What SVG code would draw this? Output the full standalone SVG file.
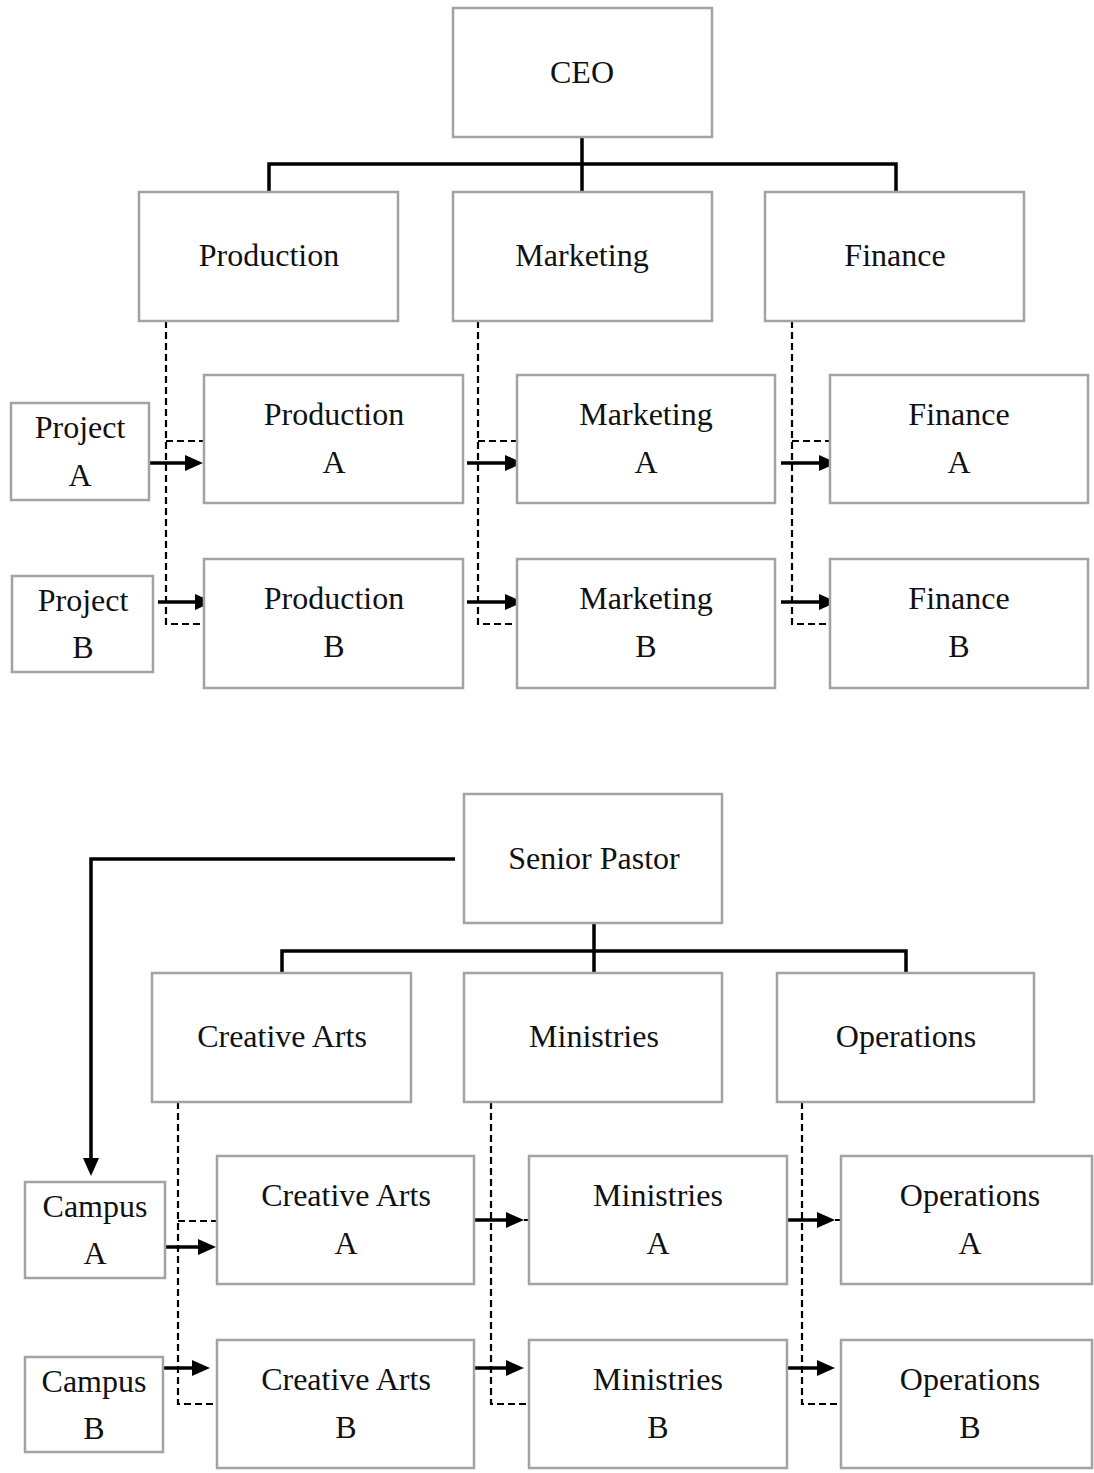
<svg xmlns="http://www.w3.org/2000/svg" width="1094" height="1473" viewBox="0 0 1094 1473">
<style>
.box{fill:#fff;stroke:#a3a3a3;stroke-width:2.5}
.t{font-family:"Liberation Serif","Times New Roman",serif;font-size:32px;fill:#111;text-anchor:middle}
.solid{fill:none;stroke:#000;stroke-width:3.5}
.dash{fill:none;stroke:#000;stroke-width:2.2;stroke-dasharray:7 4}
.arr{fill:none;stroke:#000;stroke-width:3.5;marker-end:url(#ah)}
</style>
<defs>
<marker id="ah" viewBox="0 0 18 16" refX="8" refY="8" markerWidth="18" markerHeight="16" markerUnits="userSpaceOnUse" orient="auto">
<path d="M0,0 L18,8 L0,16 z" fill="#000"/>
</marker>
</defs>
<rect width="1094" height="1473" fill="#fff"/>

<g id="connectors-top">
<path class="solid" d="M582,137 V164 M269,192 V164 H896 V192 M582,164 V192"/>
<path class="dash" d="M166,321 V624 H204 M166,441 H204"/>
<path class="dash" d="M478,321 V624 H517 M478,441 H517"/>
<path class="dash" d="M792,321 V624 H830 M792,441 H830"/>
<path class="arr" d="M147,463 H193"/>
<path class="arr" d="M158,602 H203"/>
<path class="arr" d="M467,463 H513"/>
<path class="arr" d="M467,602 H513"/>
<path class="arr" d="M781,463 H827"/>
<path class="arr" d="M781,602 H827"/>
</g>

<g id="ceo"><rect class="box" x="453" y="8" width="259" height="129"/><text class="t" x="582" y="83">CEO</text></g>
<g id="production"><rect class="box" x="139" y="192" width="259" height="129"/><text class="t" x="269" y="266">Production</text></g>
<g id="marketing"><rect class="box" x="453" y="192" width="259" height="129"/><text class="t" x="582" y="266">Marketing</text></g>
<g id="finance"><rect class="box" x="765" y="192" width="259" height="129"/><text class="t" x="895" y="266">Finance</text></g>

<g id="project-a"><rect class="box" x="11" y="403" width="138" height="97"/><text class="t" x="80" y="438">Project</text><text class="t" x="80" y="486">A</text></g>
<g id="project-b"><rect class="box" x="12" y="576" width="141" height="96"/><text class="t" x="83" y="611">Project</text><text class="t" x="83" y="658">B</text></g>

<g id="production-a"><rect class="box" x="204" y="375" width="259" height="128"/><text class="t" x="334" y="425">Production</text><text class="t" x="334" y="473">A</text></g>
<g id="marketing-a"><rect class="box" x="517" y="375" width="258" height="128"/><text class="t" x="646" y="425">Marketing</text><text class="t" x="646" y="473">A</text></g>
<g id="finance-a"><rect class="box" x="830" y="375" width="258" height="128"/><text class="t" x="959" y="425">Finance</text><text class="t" x="959" y="473">A</text></g>

<g id="production-b"><rect class="box" x="204" y="559" width="259" height="129"/><text class="t" x="334" y="609">Production</text><text class="t" x="334" y="657">B</text></g>
<g id="marketing-b"><rect class="box" x="517" y="559" width="258" height="129"/><text class="t" x="646" y="609">Marketing</text><text class="t" x="646" y="657">B</text></g>
<g id="finance-b"><rect class="box" x="830" y="559" width="258" height="129"/><text class="t" x="959" y="609">Finance</text><text class="t" x="959" y="657">B</text></g>

<g id="connectors-bottom">
<path class="solid" d="M594,923 V951 M282,973 V951 H906 V973 M594,951 V973"/>
<path class="arr" d="M455,859 H91 V1166"/>
<path class="dash" d="M178,1102 V1404 H217 M178,1221 H217"/>
<path class="dash" d="M491,1102 V1404 H529 M491,1220 H529"/>
<path class="dash" d="M802,1102 V1404 H841 M802,1220 H841"/>
<path class="arr" d="M160,1247 H206"/>
<path class="arr" d="M153,1368 H200"/>
<path class="arr" d="M466,1220 H514"/>
<path class="arr" d="M466,1368 H514"/>
<path class="arr" d="M778,1220 H825"/>
<path class="arr" d="M778,1368 H825"/>
</g>

<g id="senior-pastor"><rect class="box" x="464" y="794" width="258" height="129"/><text class="t" x="594" y="869">Senior Pastor</text></g>
<g id="creative-arts"><rect class="box" x="152" y="973" width="259" height="129"/><text class="t" x="282" y="1047">Creative Arts</text></g>
<g id="ministries"><rect class="box" x="464" y="973" width="258" height="129"/><text class="t" x="594" y="1047">Ministries</text></g>
<g id="operations"><rect class="box" x="777" y="973" width="257" height="129"/><text class="t" x="906" y="1047">Operations</text></g>

<g id="campus-a"><rect class="box" x="25" y="1182" width="140" height="96"/><text class="t" x="95" y="1217">Campus</text><text class="t" x="95" y="1264">A</text></g>
<g id="campus-b"><rect class="box" x="25" y="1357" width="138" height="95"/><text class="t" x="94" y="1392">Campus</text><text class="t" x="94" y="1439">B</text></g>

<g id="creative-arts-a"><rect class="box" x="217" y="1156" width="257" height="128"/><text class="t" x="346" y="1206">Creative Arts</text><text class="t" x="346" y="1254">A</text></g>
<g id="ministries-a"><rect class="box" x="529" y="1156" width="258" height="128"/><text class="t" x="658" y="1206">Ministries</text><text class="t" x="658" y="1254">A</text></g>
<g id="operations-a"><rect class="box" x="841" y="1156" width="251" height="128"/><text class="t" x="970" y="1206">Operations</text><text class="t" x="970" y="1254">A</text></g>

<g id="creative-arts-b"><rect class="box" x="217" y="1340" width="257" height="128"/><text class="t" x="346" y="1390">Creative Arts</text><text class="t" x="346" y="1438">B</text></g>
<g id="ministries-b"><rect class="box" x="529" y="1340" width="258" height="128"/><text class="t" x="658" y="1390">Ministries</text><text class="t" x="658" y="1438">B</text></g>
<g id="operations-b"><rect class="box" x="841" y="1340" width="251" height="128"/><text class="t" x="970" y="1390">Operations</text><text class="t" x="970" y="1438">B</text></g>
</svg>
